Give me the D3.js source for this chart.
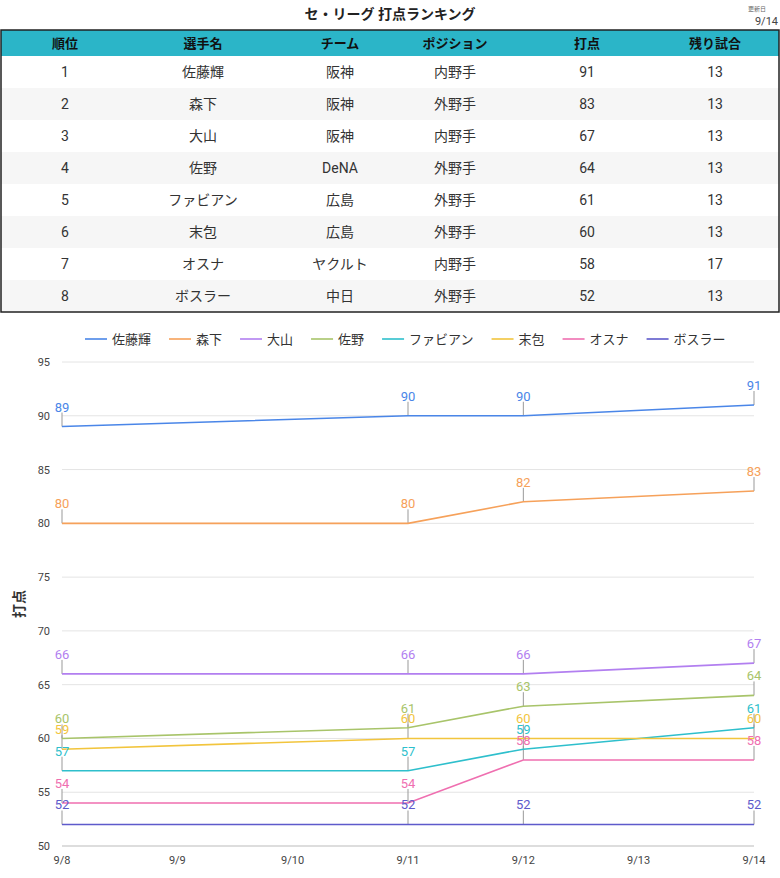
<!DOCTYPE html><html><head><meta charset="utf-8">
<script src="https://cdn.jsdelivr.net/npm/d3@7"></script>
<style>body{margin:0;background:#fff;font-family:Roboto,"Noto Sans CJK JP",sans-serif}</style></head><body>
<svg id="c" width="780" height="878"></svg>
<script>
const headers=["順位","選手名","チーム","ポジション","打点","残り試合"];
const ranks=[1,2,3,4,5,6,7,8];
const players=["佐藤輝","森下","大山","佐野","ファビアン","末包","オスナ","ボスラー"];
const teams=["阪神","阪神","阪神","DeNA","広島","広島","ヤクルト","中日"];
const positions=["内野手","外野手","内野手","外野手","外野手","外野手","内野手","外野手"];
const rbis=[91,83,67,64,61,60,58,52];
const remaining=[13,13,13,13,13,13,17,13];
const dates=["9/8","9/9","9/10","9/11","9/12","9/13","9/14"];
const obsDates=["9/8","9/11","9/12","9/14"];
const series=[[89,90,90,91],[80,80,82,83],[66,66,66,67],[60,61,63,64],[57,57,59,61],[59,60,60,60],[54,54,58,58],[52,52,52,52]];
const colors=["#4a86e8","#f6a15a","#b27ff0","#a8c46a","#2ebfcc","#f2c53d","#ef6fb0","#5e5acb"];
const yTicks=[50,55,60,65,70,75,80,85,90,95];

const svg=d3.select("#c");
const F='Roboto,"Noto Sans CJK JP",sans-serif';
svg.append("text").attr("x",390).attr("y",19).attr("text-anchor","middle").attr("font-size",14).attr("font-weight","bold").attr("fill","#222").text("セ・リーグ 打点ランキング");
svg.append("text").attr("x",766).attr("y",11).attr("text-anchor","end").attr("font-size",6).attr("fill","#666").text("更新日");
svg.append("text").attr("x",778).attr("y",25).attr("text-anchor","end").attr("font-size",11).attr("fill","#444").text("9/14");
const cx=[65,203,340,455,587,715];
const tY=d3.scaleBand().domain(ranks).range([56,312]);
svg.append("rect").attr("x",1).attr("y",30).attr("width",778).attr("height",26).attr("fill","#2bb5c8");
headers.forEach((h,i)=>svg.append("text").attr("x",cx[i]).attr("y",48).attr("text-anchor","middle").attr("font-size",13).attr("font-weight","bold").attr("fill","#111").text(h));
ranks.forEach((r,i)=>{
  if(i%2==1) svg.append("rect").attr("x",1).attr("y",tY(r)).attr("width",778).attr("height",tY.bandwidth()).attr("fill","#f6f6f6");
  [r,players[i],teams[i],positions[i],rbis[i],remaining[i]].forEach((v,j)=>svg.append("text").attr("x",cx[j]).attr("y",tY(r)+tY.bandwidth()/2+5).attr("text-anchor","middle").attr("font-size",14).attr("fill","#333").text(v));
});
svg.append("rect").attr("x",1).attr("y",30).attr("width",778).attr("height",282).attr("fill","none").attr("stroke","#222").attr("stroke-width",1.5);

const x=d3.scalePoint().domain(dates).range([62,754]);
const y=d3.scaleLinear().domain([50,95]).range([846,362]);
yTicks.forEach(t=>{
  svg.append("line").attr("x1",62).attr("x2",754).attr("y1",y(t)).attr("y2",y(t)).attr("stroke",t==50?"#bbb":"#e4e4e4");
  svg.append("text").attr("x",50).attr("y",y(t)+4).attr("text-anchor","end").attr("font-size",11).attr("fill","#444").text(t);
});
dates.forEach(d=>svg.append("text").attr("x",x(d)).attr("y",864).attr("text-anchor","middle").attr("font-size",11).attr("fill","#444").text(d));
svg.append("text").attr("transform","translate(24,604) rotate(-90)").attr("text-anchor","middle").attr("font-size",14).attr("font-weight","bold").attr("fill","#333").text("打点");
const line=d3.line().x((d,i)=>x(obsDates[i])).y(d=>y(d));
series.forEach((s,k)=>{
  s.forEach((v,i)=>svg.append("line").attr("x1",x(obsDates[i])).attr("x2",x(obsDates[i])).attr("y1",y(v)).attr("y2",y(v)-14).attr("stroke","#999"));
});
series.forEach((s,k)=>svg.append("path").attr("d",line(s)).attr("fill","none").attr("stroke",colors[k]).attr("stroke-width",1.6));
series.forEach((s,k)=>s.forEach((v,i)=>svg.append("text").attr("x",x(obsDates[i])).attr("y",y(v)-15).attr("text-anchor","middle").attr("font-size",13).attr("fill",colors[k]).text(v)));
// legend
const lg=svg.append("g");
let lx=85;
players.forEach((p,k)=>{
  lg.append("line").attr("x1",lx).attr("x2",lx+22).attr("y1",339).attr("y2",339).attr("stroke",colors[k]).attr("stroke-width",1.6);
  const t=lg.append("text").attr("x",lx+27).attr("y",344).attr("font-size",13).attr("fill","#333").text(p);
  lx+=27+t.node().getComputedTextLength()+18;
});
</script></body></html>
